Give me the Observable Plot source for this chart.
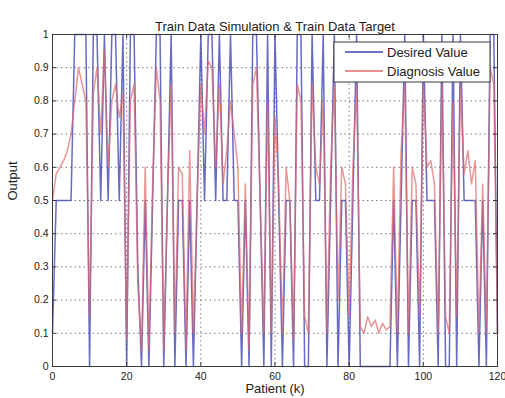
<!DOCTYPE html>
<html><head><meta charset="utf-8">
<script src="https://cdn.jsdelivr.net/npm/d3@7"></script>
<script src="https://cdn.jsdelivr.net/npm/@observablehq/plot@0.6"></script>
<style>body{margin:0;background:#fff} svg{display:block}</style>
</head><body><div id="chart"></div>
<script>
const titleText = "Train Data Simulation & Train Data Target";
const xLabel = "Patient (k)";
const yLabel = "Output";
const seriesNames = ["Desired Value", "Diagnosis Value"];
const seriesColors = ["#4146b4", "#e06a6a"];
const xTicks = [0, 20, 40, 60, 80, 100, 120];
const xTickLabels = ["0", "20", "40", "60", "80", "100", "120"];
const yTicks = [0, 0.1, 0.2, 0.3, 0.4, 0.5, 0.6, 0.7, 0.8, 0.9, 1];
const yTickLabels = ["0", "0.1", "0.2", "0.3", "0.4", "0.5", "0.6", "0.7", "0.8", "0.9", "1"];

// patient index k = 0..120
const desired = [
  0.1, 0.5, 0.5, 0.5, 0.5, 0.5, 1, 1, 1, 1,
  0, 1, 1, 0.5, 1, 0.5, 1, 1, 0.5, 1,
  0, 1, 1, 0.3, 0, 0.5, 0, 0.5, 1, 1,
  0, 0.5, 1, 0, 0.5, 0.5, 0, 0.5, 0, 0.5,
  1, 0.5, 1, 1, 0.5, 1, 0.5, 0.5, 1, 0.5,
  0.5, 0, 0.5, 0, 1, 1, 0.5, 0, 1, 0,
  1, 0.5, 0, 0.5, 0.5, 0, 1, 1, 0, 0,
  1, 0.5, 0.5, 1, 0, 0.5, 1, 0, 0.5, 0.5,
  0, 0.5, 1, 0, 0, 0, 0, 0, 0, 0,
  0, 0, 0.5, 0, 0.5, 1, 0, 0.5, 0.5, 0,
  1, 0.5, 0.5, 0.5, 0, 1, 0, 0, 1, 0,
  1, 0.5, 0.5, 0.5, 0.5, 0, 0.5, 0, 1, 1,
  0.1
];
const diagnosis = [
  0.5, 0.58, 0.6, 0.62, 0.65, 0.7, 0.8, 0.9, 0.85, 0.8,
  0.15, 0.82, 0.9, 0.7, 0.95, 0.6, 0.8, 0.85, 0.75, 0.82,
  0.08, 0.8, 0.85, 0.25, 0.05, 0.6, 0.05, 0.55, 0.9, 0.8,
  0.05, 0.5, 0.85, 0.1, 0.6, 0.58, 0.05, 0.65, 0.1, 0.5,
  0.85, 0.7, 0.92, 0.9, 0.6, 0.85, 0.55, 0.65, 0.8, 0.7,
  0.6, 0.1, 0.55, 0.05, 0.85, 0.9, 0.5, 0.1, 0.8, 0.1,
  0.75, 0.55, 0.1, 0.6, 0.5, 0.08, 0.85, 0.8, 0.15, 0.1,
  0.85, 0.6, 0.55, 0.8, 0.1, 0.6, 0.85, 0.2, 0.6, 0.55,
  0.15, 0.6, 0.85, 0.12, 0.1, 0.15, 0.12, 0.14, 0.1, 0.13,
  0.11, 0.12, 0.6, 0.1, 0.65, 0.85, 0.1, 0.6, 0.55, 0.15,
  0.85, 0.6, 0.62, 0.55, 0.1, 0.85, 0.15, 0.1, 0.8, 0.15,
  0.85, 0.58, 0.65, 0.55, 0.62, 0.1, 0.55, 0.1, 0.9, 0.85,
  0.1
];

const desiredRows = desired.map((v, i) => ({k: i, v}));
const diagRows = diagnosis.map((v, i) => ({k: i, v}));

const W = 505, H = 398, mT = 34, mR = 8, mB = 32, mL = 52;
const plotW = W - mL - mR, plotH = H - mT - mB;
const axisColor = "#3a3a3a";
const gridStyle = {stroke: "#6c6c88", strokeOpacity: 0.9, strokeDasharray: "1.5,3"};

const chart = Plot.plot({
  width: W, height: H,
  marginTop: mT, marginRight: mR, marginBottom: mB, marginLeft: mL,
  style: {fontFamily: "'Liberation Sans', Arial, sans-serif", fontSize: "10px", color: "#222", background: "#fff"},
  x: {domain: [0, 120]},
  y: {domain: [0, 1]},
  marks: [
    Plot.gridY(yTicks, gridStyle),
    Plot.gridX(xTicks, gridStyle),
    Plot.line(desiredRows, {x: "k", y: "v", stroke: seriesColors[0], strokeWidth: 1.5, strokeOpacity: 0.8}),
    Plot.line(diagRows, {x: "k", y: "v", stroke: seriesColors[1], strokeWidth: 1.5, strokeOpacity: 0.7}),
    Plot.frame({stroke: axisColor}),
    Plot.tickX(xTicks, {x: d => d, insetTop: plotH - 4, stroke: axisColor}),
    Plot.tickX(xTicks, {x: d => d, insetBottom: plotH - 4, stroke: axisColor}),
    Plot.tickY(yTicks, {y: d => d, insetRight: plotW - 4, stroke: axisColor}),
    Plot.tickY(yTicks, {y: d => d, insetLeft: plotW - 4, stroke: axisColor}),
    Plot.axisX(xTicks, {tickSize: 0, tickPadding: 6, label: null, tickFormat: (d, i) => xTickLabels[i], fontSize: 10.5}),
    Plot.axisY(yTicks, {tickSize: 0, tickPadding: 4, label: null, tickFormat: (d, i) => yTickLabels[i], fontSize: 10.5}),
    Plot.text([titleText], {frameAnchor: "top", dy: -13, fontSize: 13, fill: "#222"}),
    Plot.text([xLabel], {frameAnchor: "bottom", dy: 26, fontSize: 13, fill: "#222"}),
    Plot.text([yLabel], {frameAnchor: "left", dx: -40, rotate: -90, fontSize: 13, fill: "#222"})
  ]
});
document.getElementById("chart").appendChild(chart);

// legend box (top-right, inside the axes)
const svg = d3.select(chart);
const lg = svg.append("g")
  .attr("font-family", "'Liberation Sans', Arial, sans-serif")
  .attr("font-size", 13).attr("fill", "#222").attr("text-anchor", "start");
lg.append("rect").attr("x", 334).attr("y", 42).attr("width", 156).attr("height", 40)
  .attr("fill", "#fff").attr("stroke", axisColor);
seriesNames.forEach((name, i) => {
  const yy = 52 + i * 19;
  lg.append("line").attr("x1", 345).attr("x2", 383).attr("y1", yy).attr("y2", yy)
    .attr("stroke", seriesColors[i]).attr("stroke-width", 1.3);
  lg.append("text").attr("x", 387).attr("y", yy).attr("dy", "0.35em").attr("text-anchor", "start").text(name);
});
</script>
</body></html>
